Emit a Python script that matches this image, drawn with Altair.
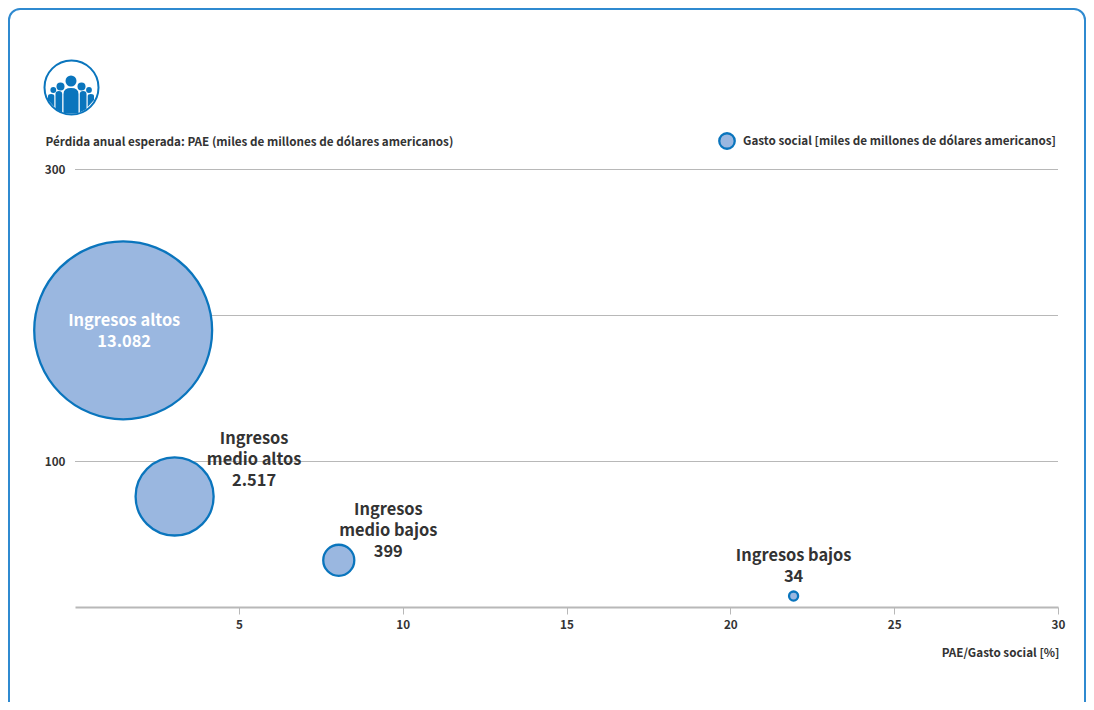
import altair as alt
import pandas as pd

# --- values ---
groups = ["Ingresos altos", "Ingresos medio altos", "Ingresos medio bajos", "Ingresos bajos"]
label_lines = ["Ingresos altos\n13.082", "Ingresos\nmedio altos\n2.517", "Ingresos\nmedio bajos\n399", "Ingresos bajos\n34"]
pae_ratio = [1.47, 3.04, 8.05, 21.93]
pae = [189.5, 75.7, 32.0, 7.5]
social = [13082, 2517, 399, 34]
grid_values = [100, 200, 300]
y_ticks = [100, 300]
x_ticks = [5, 10, 15, 20, 25, 30]

FONT = "Noto Sans CJK SC"
INK = "#333333"
BLUE = "#0a75bd"
FILL = "#9ab7e0"
GREY = "#b8b8b8"
SMALL = 11.7
W, H = 983, 438
PAD = dict(left=67, top=161, right=28, bottom=95)

df = pd.DataFrame({"group": groups, "label": label_lines, "x": pae_ratio, "y": pae, "social": social})
one = pd.DataFrame({"a": [0]})

xs = alt.Scale(domain=[0, 30], nice=False, zero=False)
ys = alt.Scale(domain=[0, 300], nice=False, zero=False)
ss = alt.Scale(type="linear", domain=[0, 13082], range=[0, 31650])

x_axis = alt.Axis(
    values=x_ticks, grid=False, domainColor=GREY, domainWidth=2, tickColor=GREY, tickSize=7,
    tickWidth=1, labelFont=FONT, labelFontSize=SMALL, labelFontWeight=600, labelColor=INK,
    labelPadding=5, labelFlush=False, labelOverlap=False,
    title="PAE/Gasto social [%]", titleFont=FONT, titleFontSize=SMALL,
    titleFontWeight=600, titleColor=INK, titleAlign="right", titleAnchor="end",
    titleX=W + 1, titleY=45, titleBaseline="middle", format="d",
)
y_axis = alt.Axis(
    values=y_ticks, grid=False, domain=False, ticks=False, labelFont=FONT, labelFontSize=SMALL,
    labelFontWeight=600, labelColor=INK, labelPadding=10, labelFlush=False, format="d",
    title="Pérdida anual esperada: PAE (miles de millones de dólares americanos)",
    titleFont=FONT, titleFontSize=SMALL, titleFontWeight=600, titleColor=INK, titleAngle=0,
    titleAlign="left", titleBaseline="middle", titleX=-30, titleY=-28,
)

base = alt.Chart(df)

frame = alt.Chart(one).mark_rect(
    fill="transparent", stroke="#2f8ad0", strokeWidth=2, cornerRadius=11, clip=False
).encode(
    x=alt.value(-66), x2=alt.value(1010),
    y=alt.value(-160), y2=alt.value(545),
)

grid = alt.Chart(pd.DataFrame({"v": grid_values})).mark_rule(color=GREY, strokeWidth=1, yOffset=0.5).encode(
    y=alt.Y("v:Q", scale=ys, axis=y_axis)
)

bubbles = base.mark_circle(fill=FILL, opacity=1, stroke=BLUE, strokeWidth=2.3, clip=False).encode(
    x=alt.X("x:Q", scale=xs, axis=x_axis),
    y=alt.Y("y:Q", scale=ys, axis=y_axis),
    size=alt.Size("social:Q", scale=ss, legend=None),
)

offsets = {
    "Ingresos altos": (1, -9.5, "white"),
    "Ingresos medio altos": (79.5, -57, INK),
    "Ingresos medio bajos": (49.5, -50.5, INK),
    "Ingresos bajos": (0, -40, INK),
}
labels = [
    base.transform_filter(alt.datum.group == g).mark_text(
        font=FONT, fontSize=16.4, fontWeight=600, lineBreak="\n", lineHeight=21,
        align="center", baseline="middle", dx=dx, dy=dy, color=c, clip=False,
    ).encode(x=alt.X("x:Q", scale=xs, axis=x_axis), y=alt.Y("y:Q", scale=ys, axis=y_axis), text="label:N")
    for g, (dx, dy, c) in offsets.items()
]

legend_sym = alt.Chart(one).mark_point(
    shape="circle", filled=True, fill=FILL, stroke=BLUE, strokeWidth=2.3, size=240, opacity=1
).encode(x=alt.value(652), y=alt.value(-28))
legend_txt = alt.Chart(one).mark_text(
    text="Gasto social [miles de millones de dólares americanos]", font=FONT, fontSize=SMALL,
    fontWeight=600, color=INK, align="right", baseline="middle",
).encode(x=alt.value(W - 2), y=alt.value(-28))

# --- decorative icon: a group of people inside a ring ---
ICON_X, ICON_Y = -3.5, -81.5
UNIT = 27.0


def sym(points_px):
    out = []
    for cmd, *vals in points_px:
        out.append(cmd + " ".join(f"{v / UNIT:.4f}" for v in vals))
    return " ".join(out) + " Z"


def body(x0, x1, top, bot0, bot1, bend):
    mid = (x0 + x1) / 2
    return sym([
        ("M", x0, bot0), ("L", x0, top + bend),
        ("Q", x0, top, mid, top), ("Q", x1, top, x1, top + bend),
        ("L", x1, bot1),
    ])


body_paths = [
    body(-8, 7, 0.5, 26, 26, 6),
    body(-16, -9.3, 3.5, 21.5, 25, 3),
    body(8.3, 15, 3.5, 25, 21.5, 3),
    body(-23.5, -17.2, 6.5, 12.5, 19.5, 2),
    body(16.2, 22.5, 6.5, 19.5, 12.5, 2),
]
heads = [(-0.5, -6.5, 11), (-11, -1, 8), (10, -1, 8), (-18.2, 2.5, 5.8), (17.5, 2.5, 5.8)]

icon_parts = [
    alt.Chart(one).mark_point(shape="circle", filled=False, stroke=BLUE, strokeWidth=2, size=54 * 54, opacity=1)
    .encode(x=alt.value(ICON_X), y=alt.value(ICON_Y))
]
for p in body_paths:
    icon_parts.append(
        alt.Chart(one).mark_point(shape=p, filled=True, fill=BLUE, size=54 * 54, opacity=1)
        .encode(x=alt.value(ICON_X), y=alt.value(ICON_Y))
    )
for hx, hy, d in heads:
    icon_parts.append(
        alt.Chart(one).mark_point(shape="circle", filled=True, fill=BLUE, size=d * d, opacity=1)
        .encode(x=alt.value(ICON_X + hx), y=alt.value(ICON_Y + hy))
    )

chart = alt.layer(
    frame, grid, bubbles, *labels, legend_sym, legend_txt, *icon_parts
).properties(
    width=W, height=H, autosize=alt.AutoSizeParams(type="none"), padding=PAD, background="white",
).configure_view(stroke=None)

chart.save("out.html", embed_options={"renderer": "svg", "actions": False})
